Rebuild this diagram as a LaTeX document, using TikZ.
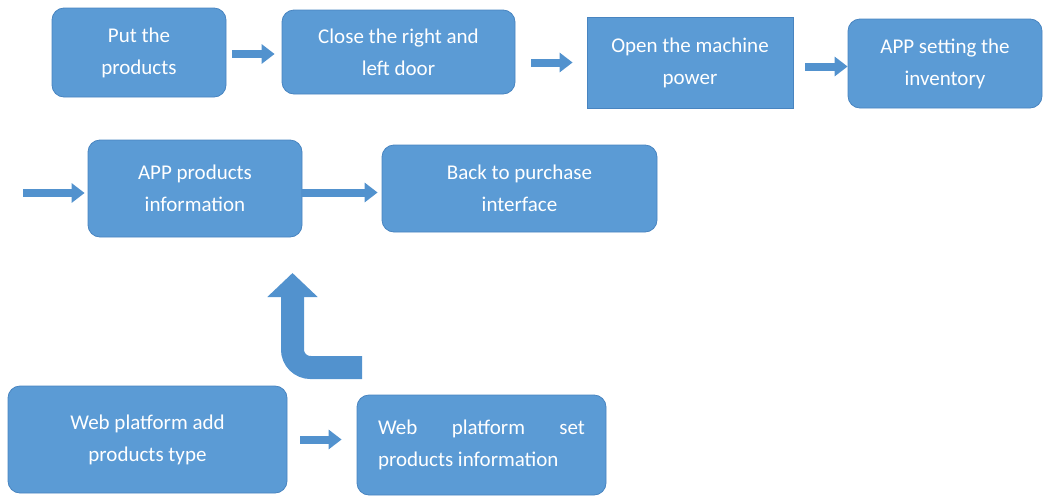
\documentclass[tikz,border=0pt]{standalone}
\usepackage{fontspec}
\setmainfont{Carlito}
\usepackage{tikz}
\usetikzlibrary{arrows.meta}
\definecolor{boxblue}{RGB}{91,155,213}
\definecolor{boxline}{RGB}{72,132,192}
\definecolor{flowblue}{RGB}{82,146,206}

\begin{document}
\begin{tikzpicture}[x=1pt, y=-1pt,
  stepbox/.style={fill=boxblue, draw=boxline, line width=0.8pt, rounded corners=12pt,
    text=white, align=center, inner sep=0pt, font=\fontsize{21}{32}\selectfont},
  squarebox/.style={stepbox, sharp corners},
  flow/.style={flowblue, line width=8pt, -{Triangle[width=19pt,length=13pt]}},
  bigflow/.style={flowblue, line width=23pt, rounded corners=18pt, -{Triangle[width=49pt,length=24pt]}}]
\useasboundingbox (0,0) rectangle (1044,496);
\node[stepbox, minimum width=174pt, minimum height=89pt] (put) at (139,52.5) {Put the\\products};
\node[stepbox, minimum width=233pt, minimum height=84pt] (close) at (398.5,52) {Close the right and\\left door};
\node[squarebox, minimum width=206pt, minimum height=91pt] (power) at (690,62.5) {Open the machine\\power};
\node[stepbox, minimum width=194pt, minimum height=89pt] (setinv) at (945,63.5) {APP setting the\\inventory};
\node[stepbox, minimum width=214pt, minimum height=97pt] (appinfo) at (195,188.5) {APP products\\information};
\node[stepbox, minimum width=275pt, minimum height=87pt] (back) at (519.5,188.5) {Back to purchase\\interface};
\node[stepbox, minimum width=279pt, minimum height=107pt] (webadd) at (147.5,439.5) {Web platform add\\products type};
\node[stepbox, minimum width=249pt, minimum height=100pt, align=left] (webset) at (481.5,445)
  {\makebox[207pt][s]{Web platform set}\\products information};
\coordinate (entry) at (23,193);
\coordinate (bendtail) at (362,367.5);
\coordinate (bendtip) at (292.5,273);
\draw[flow, shorten <=6pt, shorten >=7pt] ([yshift=-1.5pt]put.east) -- ([yshift=-1.5pt]put.east -| close.west);
\draw[flow, shorten <=16pt, shorten >=14pt] (close.east |- power.west) -- (power.west);
\draw[flow, shorten <=12pt] ([yshift=-4pt]power.east) -- ([yshift=-4pt]power.east -| setinv.west);
\draw[flow, shorten >=3pt] (entry) -- (entry -| appinfo.west);
\draw[flow, shorten >=4pt] ([yshift=-4pt]appinfo.east) -- ([yshift=-4pt]appinfo.east -| back.west);
\draw[flow, shorten <=13pt, shorten >=15pt] (webadd.east) -- (webadd.east -| webset.west);
\draw[bigflow] (bendtail) -- (bendtail -| bendtip) -- (bendtip);
\end{tikzpicture}
\end{document}
